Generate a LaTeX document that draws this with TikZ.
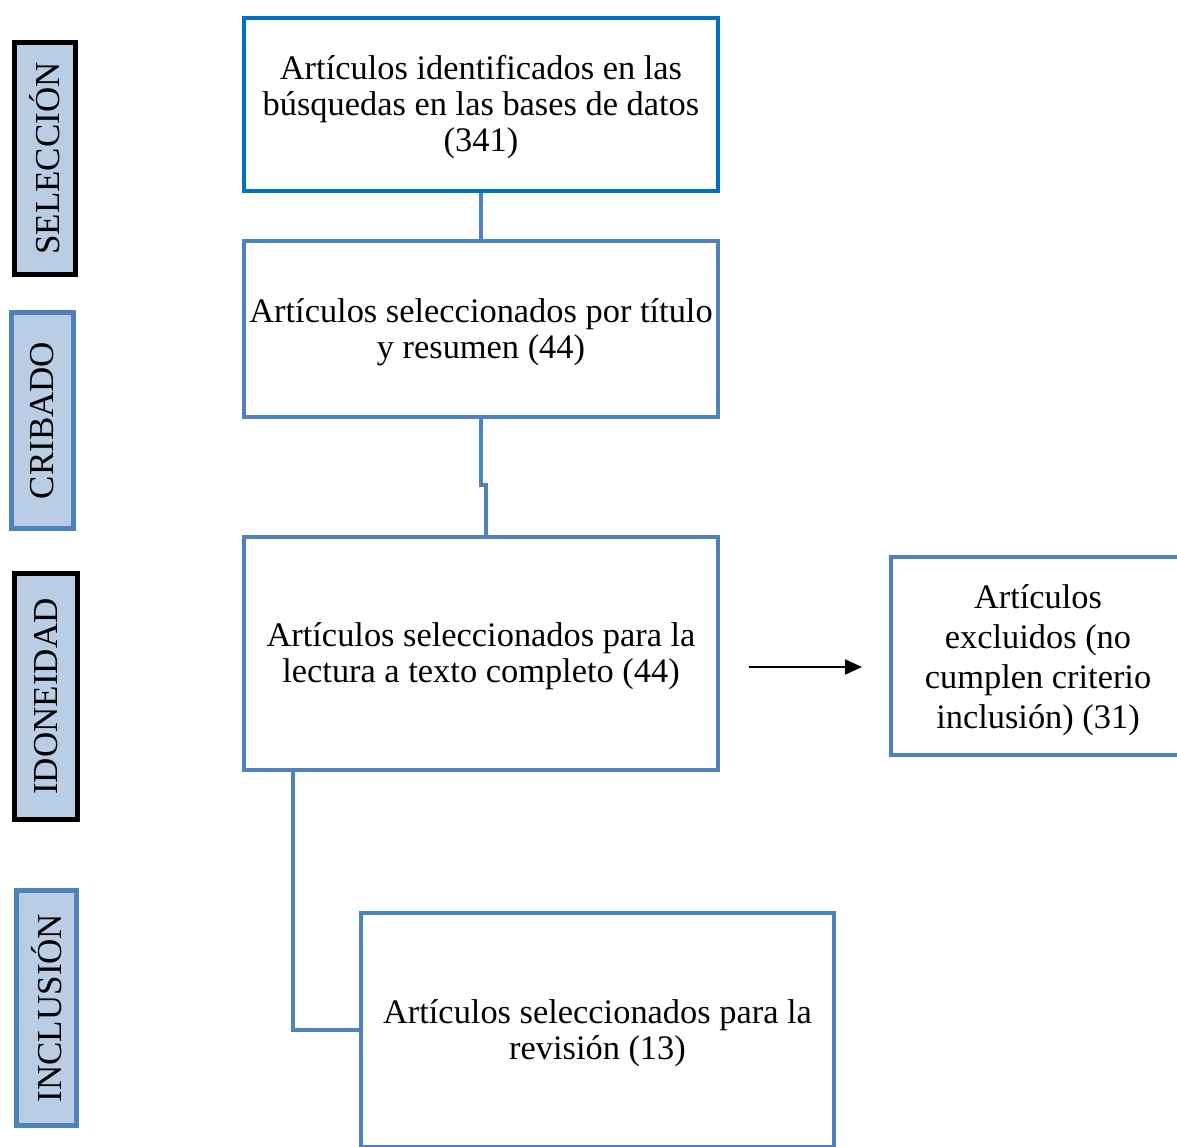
\documentclass[tikz,border=0pt]{standalone}
\usepackage{fontspec}
\setmainfont{Liberation Serif}
\usetikzlibrary{arrows.meta}
\definecolor{boxblue}{HTML}{4F81BD}
\definecolor{darkblue}{HTML}{0070C0}
\definecolor{sidefill}{HTML}{B9CDE5}
\begin{document}
\begin{tikzpicture}[x=1pt,y=-1pt,
  flowbox/.style={draw=boxblue,line width=4pt,fill=white,inner sep=0pt},
  boxtext/.style={align=center,inner sep=0pt,font=\fontsize{34.4}{36}\selectfont},
  sidebox/.style={line width=5pt,fill=sidefill,inner sep=0pt,rotate=90,
    font=\fontsize{35}{36}\selectfont},
  conn/.style={draw=boxblue,line width=4pt},
]
\useasboundingbox (0,0) rectangle (1177,1147);
\begin{scope}
\clip (0,0) rectangle (1177,1147);
% side labels (rotated: minimum width is along text)
\node[sidebox,draw=black,minimum width=232pt,minimum height=61pt] (sel) at (45,158.5) {SELECCIÓN};
\node[sidebox,draw=boxblue,minimum width=215pt,minimum height=62pt] (cri) at (42,420.5) {CRIBADO};
\node[sidebox,draw=black,minimum width=246pt,minimum height=63pt] (ido) at (46,696.5) {IDONEIDAD};
\node[sidebox,draw=boxblue,minimum width=235pt,minimum height=60pt] (inc) at (46.5,1008) {INCLUSIÓN};

% flow boxes
\node[flowbox,draw=darkblue,minimum width=474pt,minimum height=173pt] (b1) at (481,104.5) {};
\node[flowbox,minimum width=474pt,minimum height=176pt] (b2) at (481,329) {};
\node[flowbox,minimum width=474pt,minimum height=233pt] (b3) at (481,653.5) {};
\node[flowbox,minimum width=294pt,minimum height=198pt] (b4) at (1038,656) {};
\node[flowbox,minimum width=473pt,minimum height=234pt] (b5) at (597.5,1030) {};

% box texts
\node[boxtext] (t1) at ([yshift=-3pt]b1.center)
  {Artículos identificados en las\\búsquedas en las bases de datos\\(341)};
\node[boxtext] (t2) at ([yshift=-3pt]b2.center)
  {Artículos seleccionados por título\\y resumen (44)};
\node[boxtext] (t3) at ([yshift=-3pt]b3.center)
  {Artículos seleccionados para la\\lectura a texto completo (44)};
\node[boxtext,font=\fontsize{34.4}{40}\selectfont] (t4) at ([yshift=-4pt]b4.center)
  {Artículos\\excluidos (no\\cumplen criterio\\inclusión) (31)};
\node[boxtext] (t5) at ([yshift=-3pt]b5.center)
  {Artículos seleccionados para la\\revisión (13)};

% connectors
\draw[conn] (b1.south) -- (b2.north);
\draw[conn] (b2.south) -- ++(0,66) -- ++(5,0) -- ([xshift=5pt]b3.north);
\draw[conn] ([xshift=51pt]b3.south west) |- (b5.west);
\coordinate (as) at (749,667);
\coordinate (ae) at (862,667);
\draw[line width=2pt,-{Triangle[length=17pt,width=15pt]}] (as) -- (ae);
\end{scope}
\end{tikzpicture}
\end{document}
